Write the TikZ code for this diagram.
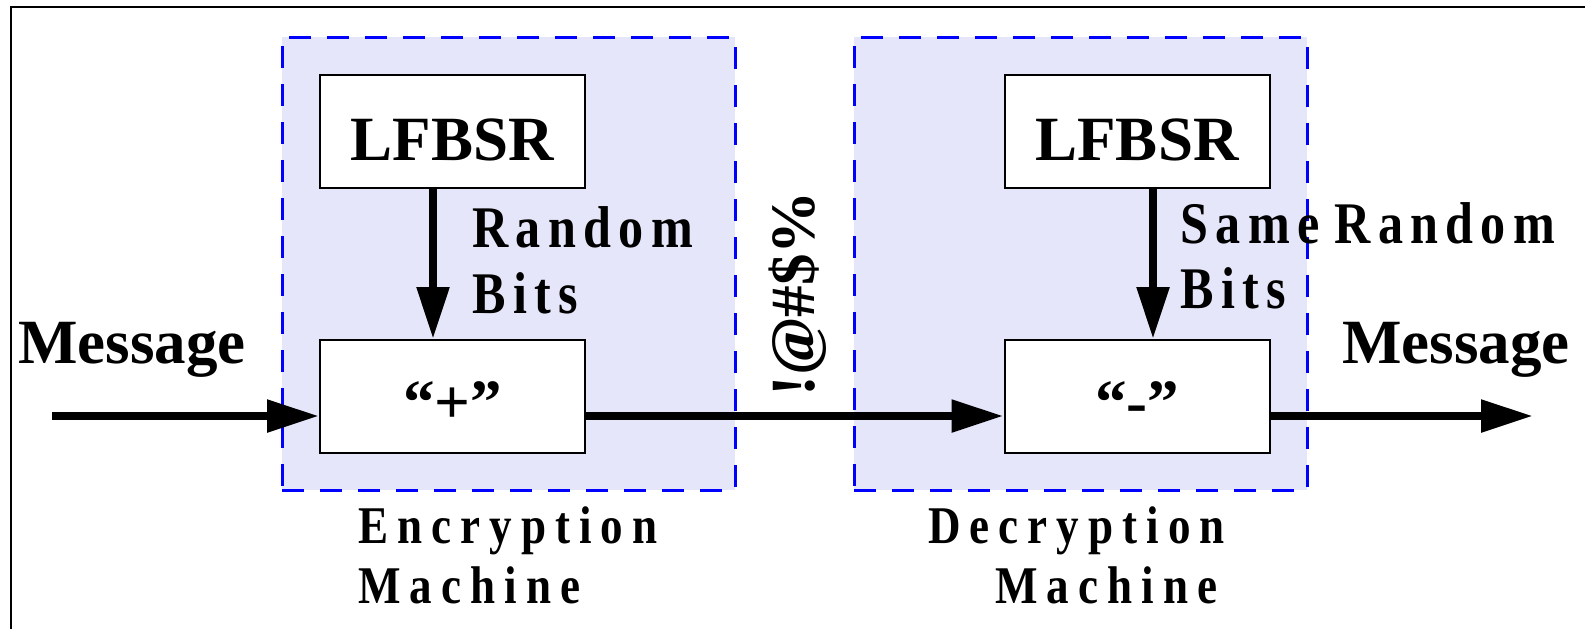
\documentclass[tikz,border=0pt]{standalone}
\usepackage{fontspec}
\setmainfont{Liberation Serif}
\newfontfamily\wideA{Liberation Serif}[FakeStretch=0.85,LetterSpace=12.5]
\newfontfamily\wideB{Liberation Serif}[FakeStretch=0.85,LetterSpace=17]
\usetikzlibrary{arrows.meta}
\definecolor{lav}{RGB}{230,230,250}
\begin{document}
\begin{tikzpicture}[x=0.5pt,y=-0.5pt,
  machine/.style={draw=blue, fill=lav, line width=1.5pt, dash pattern=on 11pt off 8pt,
    minimum width=226.5pt, minimum height=226.5pt, inner sep=0pt},
  box/.style={draw, line width=1pt, fill=white, minimum width=132.5pt, minimum height=56.5pt,
    inner sep=0pt, font=\fontsize{31.5}{36}\selectfont\bfseries},
  big/.style={font=\fontsize{31.5}{36}\selectfont\bfseries, inner sep=0pt},
  mid/.style={font=\wideA\fontsize{29.5}{34}\selectfont\bfseries, inner sep=0pt},
  small/.style={font=\wideB\fontsize{26.5}{30}\selectfont\bfseries, inner sep=0pt},
  arr/.style={line width=4.25pt, -{Triangle[length=26pt,width=15.5pt]}}]
\useasboundingbox (0,0) rectangle (1585,629);
\draw[line width=1.1pt] (11,629) -- (11,7) -- (1585,7);
% machines
\node[machine] (enc) at (508.5,263.5) {};
\node[machine] (dec) at (1080.5,263.5) {};
% boxes
\node[box, text height=30pt, text depth=1.5pt] (l1) at (452.5,131.5) {LFBSR};
\node[box, text height=28pt, text depth=1.5pt] (p) at (452.5,396.5) {“+”};
\node[box, text height=30pt, text depth=1.5pt] (l2) at (1137,131.5) {LFBSR};
\node[box, text height=28pt, text depth=1.5pt] (m) at (1137,396.5) {“-”};
% arrow coordinates
\coordinate (in) at (52,416);
\coordinate (out) at (1533,416);
\coordinate (va) at (433,0);
\coordinate (vb) at (1153,0);
\draw[arr] (in) -- (in -| p.west);
\draw[arr] (in -| p.east) -- (in -| m.west);
\draw[arr] (in -| m.east) -- (out);
\draw[arr] (va |- l1.south) -- (va |- p.north);
\draw[arr] (vb |- l2.south) -- (vb |- m.north);
% labels
\node[big, anchor=base west] (msgin) at (18,363) {Message};
\node[big, anchor=base west] (msgout) at (1342,363) {Message};
\node[big, rotate=90, anchor=base west] (sym) at (814,397) {!@\#\$\%};
\node[mid, anchor=base west] (rnd) at (472,247) {Random};
\node[mid, anchor=base west] (bits) at (472,313) {Bits};
\node[mid, anchor=base west] (srnd) at (1180,243) {Same \kern-2.5pt Random};
\node[mid, anchor=base west] (sbits) at (1180,308) {Bits};
\node[small, anchor=base west] (encl) at (358,543) {Encryption};
\node[small, anchor=base west] (encm) at (358,603) {Machine};
\node[small, anchor=base west] (decl) at (928,543) {Decryption};
\node[small, anchor=base west] (decm) at (995,603) {Machine};
\end{tikzpicture}
\end{document}
